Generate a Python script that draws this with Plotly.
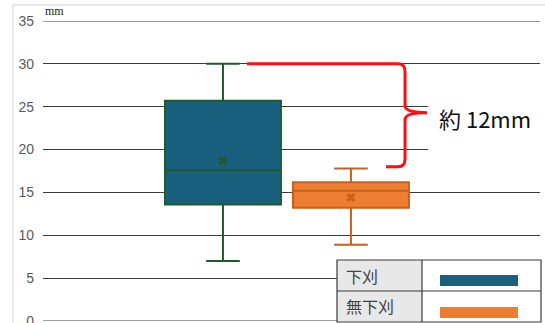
import plotly.graph_objects as go

# ---- data ----
series = ["下刈", "無下刈"]
q1 = [13.6, 13.2]
median = [17.6, 15.2]
q3 = [25.7, 16.2]
lower = [7.0, 8.9]
upper = [30.0, 17.8]
mean = [18.7, 14.4]
fill_colors = ["#19607f", "#ed7d31"]
line_colors = ["#1e5a2e", "#c9601e"]
y_ticks = [0, 5, 10, 15, 20, 25, 30, 35]
unit_label = "mm"
diff_label = "約 12mm"

W, H = 545, 323
L, R, T, B = 43, 5, 21, 2
PW, PH = W - L - R, H - T - B


def px(x):
    return (x - L) / PW


def py(y):
    return (H - B - y) / PH


fig = go.Figure()
for i, name in enumerate(series):
    fig.add_trace(go.Box(
        x=[i], q1=[q1[i]], median=[median[i]], q3=[q3[i]],
        lowerfence=[lower[i]], upperfence=[upper[i]],
        name=name, width=0.906, whiskerwidth=0.29,
        fillcolor=fill_colors[i],
        line=dict(color=line_colors[i], width=2),
        showlegend=False, hoverinfo="skip",
    ))
    fig.add_trace(go.Scatter(
        x=[i], y=[mean[i]], mode="markers",
        marker=dict(symbol="x", size=8, color=line_colors[i]),
        showlegend=False, hoverinfo="skip",
    ))

shapes = []
# chart frame
shapes.append(dict(type="rect", xref="paper", yref="paper",
                   x0=px(13), x1=px(556), y0=py(340), y1=py(5),
                   line=dict(color="#e2e2e2", width=1.5), layer="below"))
# edge gridlines
for v in (y_ticks[0], y_ticks[-1]):
    shapes.append(dict(type="line", xref="paper", yref="y",
                       x0=0, x1=1, y0=v, y1=v,
                       line=dict(color="#3c3c3c", width=1), layer="below"))
# white box behind text
shapes.append(dict(type="rect", xref="paper", yref="y",
                   x0=px(428), x1=px(542), y0=19.6, y1=29.0,
                   fillcolor="white", line=dict(width=0), layer="above"))
# red brace
top = upper[0]
bot = upper[1] + 0.2
mid = (top + bot) / 2 + 0.3
xa, xb, xc, xd, xe = px(247), px(398), px(405), px(427), px(386)
path = (f"M {xa},{top} L {xb},{top} Q {xc},{top} {xc},{top-0.9} "
        f"L {xc},{mid+0.8} Q {xc},{mid} {xd},{mid} "
        f"Q {xc},{mid} {xc},{mid-0.8} L {xc},{bot+0.9} "
        f"Q {xc},{bot} {xb},{bot} L {xe},{bot}")
shapes.append(dict(type="path", xref="paper", yref="y", path=path,
                   line=dict(color="#ff1010", width=3), layer="above"))

# legend table
lx0, lx1, lx2 = px(337), px(422), px(541)
ly0, ly1, ly2 = py(260), py(291), py(322)
shapes.append(dict(type="rect", xref="paper", yref="paper",
                   x0=lx0, x1=lx2, y0=ly2, y1=ly0,
                   fillcolor="white", line=dict(width=0), layer="above"))
shapes.append(dict(type="rect", xref="paper", yref="paper",
                   x0=lx0, x1=lx1, y0=ly2, y1=ly0,
                   fillcolor="#e8e8e8", line=dict(width=0), layer="above"))
shapes.append(dict(type="rect", xref="paper", yref="paper",
                   x0=lx0, x1=lx2, y0=ly2, y1=ly0,
                   line=dict(color="#3a3a3a", width=1.2), layer="above"))
shapes.append(dict(type="line", xref="paper", yref="paper",
                   x0=lx0, x1=lx2, y0=ly1, y1=ly1,
                   line=dict(color="#3a3a3a", width=1.2), layer="above"))
shapes.append(dict(type="line", xref="paper", yref="paper",
                   x0=lx1, x1=lx1, y0=ly2, y1=ly0,
                   line=dict(color="#3a3a3a", width=1.2), layer="above"))
sw_y = [(275, 286), (307, 318)]
for i in range(len(series)):
    shapes.append(dict(type="rect", xref="paper", yref="paper",
                       x0=px(440), x1=px(518), y0=py(sw_y[i][1]), y1=py(sw_y[i][0]),
                       fillcolor=fill_colors[i], line=dict(width=0), layer="above"))

annotations = [
    dict(text=unit_label, xref="paper", yref="paper", x=px(43), y=py(20),
         xanchor="left", yanchor="bottom", showarrow=False,
         font=dict(family="Liberation Serif", size=12, color="#222")),
    dict(text=diff_label, xref="paper", yref="y", x=px(437), y=23.7,
         xanchor="left", yanchor="middle", showarrow=False,
         font=dict(family="Noto Sans CJK JP", size=22, color="#111")),
]
row_y = [275.5, 306]
for i, name in enumerate(series):
    annotations.append(dict(text=name, xref="paper", yref="paper",
                            x=px(344), y=py(row_y[i]), xanchor="left", yanchor="middle",
                            showarrow=False,
                            font=dict(family="Noto Sans CJK JP", size=16, color="#404040")))

fig.update_layout(
    width=W, height=H,
    margin=dict(l=L, r=R, t=T, b=B, autoexpand=False),
    paper_bgcolor="white", plot_bgcolor="white",
    shapes=shapes, annotations=annotations,
    xaxis=dict(range=[-1.406, 2.477], showgrid=False, zeroline=False,
               showticklabels=False, showline=False, fixedrange=True,
               automargin=False),
    yaxis=dict(range=[0, 35], tickvals=y_ticks, showgrid=True,
               gridcolor="#3c3c3c", gridwidth=1, zeroline=False, showline=False,
               ticklabelstandoff=8, ticklabeloverflow="allow", automargin=False,
               tickfont=dict(family="Liberation Sans", size=14, color="#5a5a5a")),
    font=dict(family="Liberation Sans"),
)

fig.write_html("out.html", config={"displayModeBar": False},
               post_script="document.body.style.margin='0';document.body.style.overflow='hidden';")
